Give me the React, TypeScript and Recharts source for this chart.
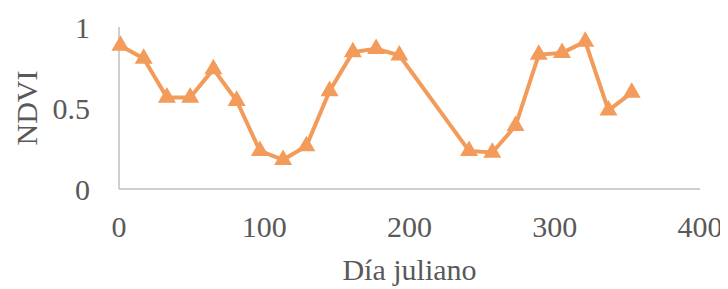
import React from 'react';
import { LineChart, Line, XAxis, YAxis, Symbols } from 'recharts';

// julian day of each 16-day composite and its NDVI
const days = [1, 17, 33, 49, 65, 81, 97, 113, 129, 145, 161, 177, 193, 241, 257, 273, 289, 305, 321, 337, 353];
const ndvi = [0.885, 0.805, 0.565, 0.565, 0.74, 0.545, 0.235, 0.18, 0.265, 0.605, 0.845, 0.865, 0.825, 0.235, 0.225, 0.39, 0.83, 0.84, 0.91, 0.485, 0.595];
const xTicks = [0, 100, 200, 300, 400];
const yTicks = [0, 0.5, 1];

const data = days.map((d, i) => ({ day: d, ndvi: ndvi[i] }));

const orange = '#F29B5A';
const axisGray = '#BFBFBF';
const textGray = '#595959';
const font = '"Liberation Serif", "Times New Roman", serif';

const Triangle = (props: any) => {
  const { cx, cy, index } = props;
  if (cx == null || cy == null) return null;
  return <Symbols key={index} cx={cx} cy={cy} type="triangle" size={140} fill={orange} />;
};

const App = () => {
  return (
    <LineChart
      width={720}
      height={281}
      data={data}
      margin={{ top: 19, right: 28, left: 0, bottom: 0 }}
      style={{ fontFamily: font }}
    >
      <XAxis
        dataKey="day"
        type="number"
        domain={[0, 400]}
        ticks={xTicks}
        height={100}
        tickLine={false}
        tickSize={0}
        tickMargin={27}
        axisLine={{ stroke: axisGray, strokeWidth: 1.5 }}
        tick={{ fill: textGray, fontSize: 30, fontFamily: font }}
        label={{
          value: 'Día juliano',
          position: 'insideBottom',
          offset: 9,
          fill: textGray,
          fontSize: 30,
          fontFamily: font,
        }}
      />
      <YAxis
        type="number"
        domain={[0, 1]}
        ticks={yTicks}
        width={111}
        tickLine={false}
        tickSize={0}
        tickMargin={29}
        axisLine={{ stroke: axisGray, strokeWidth: 1.5 }}
        tick={{ fill: textGray, fontSize: 30, fontFamily: font }}
        label={{
          value: 'NDVI',
          angle: -90,
          position: 'insideLeft',
          offset: 18,
          fill: textGray,
          fontSize: 30,
          fontFamily: font,
          style: { textAnchor: 'middle' },
        }}
      />
      <Line
        dataKey="ndvi"
        stroke={orange}
        strokeWidth={4}
        dot={Triangle}
        activeDot={false}
        isAnimationActive={false}
      />
    </LineChart>
  );
};

export default App;
